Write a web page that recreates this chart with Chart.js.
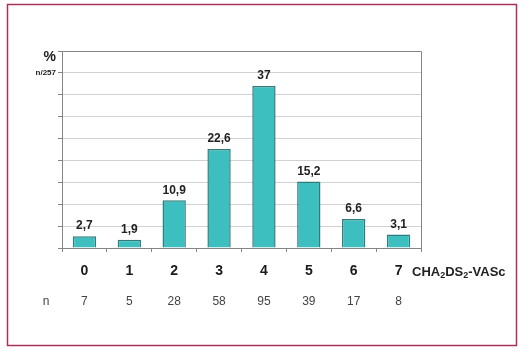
<!DOCTYPE html>
<html>
<head>
<meta charset="utf-8">
<script src="https://cdn.jsdelivr.net/npm/chart.js@4/dist/chart.umd.min.js"></script>
<style>
  html, body { margin: 0; padding: 0; background: #fff; }
  #wrap { width: 528px; height: 351px; }
</style>
</head>
<body>
<div id="wrap"><canvas id="chadsChart" width="528" height="351"></canvas></div>

<script>
// datos
const puntuaciones = ['0', '1', '2', '3', '4', '5', '6', '7'];
const porcentajes = [2.7, 1.9, 10.9, 22.6, 37, 15.2, 6.6, 3.1];
const pacientes = [7, 5, 28, 58, 95, 39, 17, 8];
const escalaMax = 45;
const escalaPaso = 5;

const GRIS_EJE = '#858585';

// dibuja marco, rótulos y fila n
const rotulosPlugin = {
    id: 'rotulos',
    afterDatasetsDraw(chart) {
        const ctx = chart.ctx;
        const meta = chart.getDatasetMeta(0);
        ctx.save();
        ctx.fillStyle = '#222';
        ctx.font = 'bold 12px Arial, "Liberation Sans", sans-serif';
        ctx.textAlign = 'center';
        ctx.textBaseline = 'bottom';
        meta.data.forEach(function(bar, i) {
            const txt = String(porcentajes[i]).replace('.', ',');
            ctx.fillText(txt, bar.x, bar.y - 4);
        });
        ctx.restore();
    },
    afterDraw(chart) {
        const ctx = chart.ctx;
        const area = chart.chartArea;
        const x = chart.scales.x;
        ctx.save();

        // marco del área de trazado (arriba y derecha)
        ctx.strokeStyle = GRIS_EJE;
        ctx.lineWidth = 1;
        ctx.beginPath();
        ctx.moveTo(area.left, Math.round(area.top) + 0.5);
        ctx.lineTo(Math.round(area.right) + 0.5, Math.round(area.top) + 0.5);
        ctx.lineTo(Math.round(area.right) + 0.5, area.bottom);
        ctx.stroke();

        // marco exterior
        ctx.strokeStyle = '#a8325a';
        ctx.lineWidth = 1.5;
        ctx.strokeRect(7.5, 4.5, 509, 341);

        // % y n/257
        ctx.fillStyle = '#222';
        ctx.textAlign = 'right';
        ctx.textBaseline = 'middle';
        ctx.font = 'bold 14px Arial, "Liberation Sans", sans-serif';
        ctx.fillText('%', 56, 57);
        ctx.font = 'bold 8px Arial, "Liberation Sans", sans-serif';
        ctx.fillText('n/257', 56, chart.scales.y.getPixelForValue(40));

        // CHA2DS2-VASc
        const yLab = 271;
        let px = 412;
        ctx.textAlign = 'left';
        ctx.textBaseline = 'alphabetic';
        const partes = [['CHA', 13, 0], ['2', 9, 2], ['DS', 13, 0], ['2', 9, 2], ['-VASc', 13, 0]];
        partes.forEach(function(p) {
            ctx.font = 'bold ' + p[1] + 'px Arial, "Liberation Sans", sans-serif';
            ctx.fillText(p[0], px, yLab + 5 + p[2]);
            px += ctx.measureText(p[0]).width;
        });

        // fila n
        ctx.fillStyle = '#444';
        ctx.textAlign = 'center';
        ctx.textBaseline = 'middle';
        ctx.font = '12px Arial, "Liberation Sans", sans-serif';
        ctx.fillText('n', 46, 302);
        pacientes.forEach(function(n, i) {
            ctx.fillText(String(n), x.getPixelForValue(i), 302);
        });
        ctx.restore();
    }
};

const ctx = document.getElementById('chadsChart').getContext('2d');
const chart = new Chart(ctx, {
    type: 'bar',
    data: {
        labels: puntuaciones,
        datasets: [{
            data: porcentajes,
            backgroundColor: '#3dbfbf',
            borderColor: '#2f7c7d',
            borderWidth: 1.5,
            borderSkipped: 'bottom',
            barPercentage: 0.52,
            categoryPercentage: 1.0
        }]
    },
    options: {
        responsive: false,
        animation: false,
        layout: {
            padding: { left: 58, top: 51, right: 107, bottom: 0 }
        },
        plugins: {
            legend: { display: false },
            tooltip: { enabled: false }
        },
        scales: {
            x: {
                afterFit: function(scale) { scale.height = 103; },
                grid: {
                    display: true,
                    drawOnChartArea: false,
                    tickLength: 4,
                    color: GRIS_EJE
                },
                border: { color: GRIS_EJE, width: 1 },
                ticks: {
                    color: '#1a1a1a',
                    padding: 11,
                    font: { family: 'Arial, "Liberation Sans", sans-serif', size: 14, weight: 'bold' }
                }
            },
            y: {
                min: 0,
                max: escalaMax,
                grid: {
                    color: '#d2d2d2',
                    tickColor: GRIS_EJE,
                    tickLength: 4
                },
                border: { color: GRIS_EJE, width: 1 },
                ticks: {
                    display: false,
                    stepSize: escalaPaso
                }
            }
        }
    },
    plugins: [rotulosPlugin]
});
</script>
</body>
</html>
